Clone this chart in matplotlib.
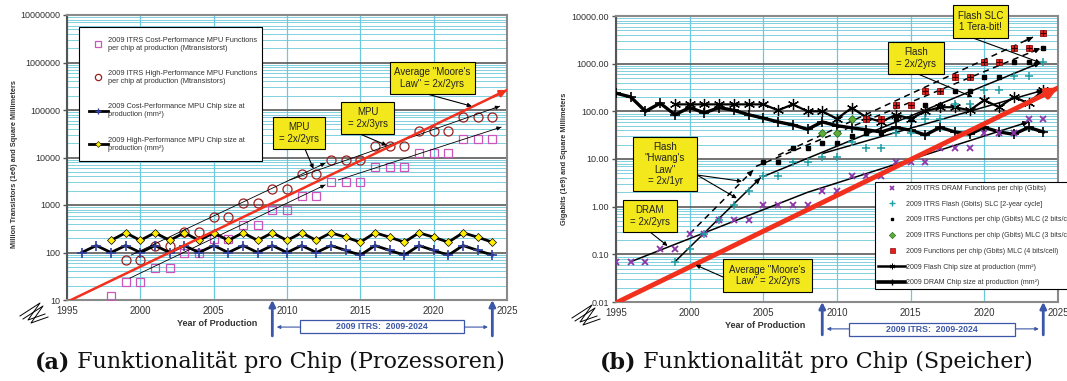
import numpy as np
import matplotlib
matplotlib.use('Agg')
import matplotlib.pyplot as plt
from matplotlib.lines import Line2D
from matplotlib.patches import Rectangle
from matplotlib.ticker import LogLocator, FuncFormatter, NullFormatter

plt.rcParams['font.family'] = ['Liberation Sans', 'DejaVu Sans']

#%% data - (a) processors
cp_func_years = list(range(1998, 2025))
cp_func = [12, 24, 24, 48, 48, 97, 97, 193, 193, 386, 386, 773, 773, 1546, 1546,
           3092, 3092, 3092, 6184, 6184, 6184, 12368, 12368, 12368, 24736, 24736, 24736]
hp_func_years = list(range(1999, 2025))
hp_func = [69, 69, 138, 138, 276, 276, 553, 553, 1106, 1106, 2212, 2212, 4424, 4424,
           8848, 8848, 8848, 17696, 17696, 17696, 35391, 35391, 35391, 70782, 70782, 70782]
cp_chip_years = list(range(1996, 2025))
cp_chip = [100, 140, 100, 140, 100, 140, 100, 140, 100, 140, 100, 140, 100, 140, 100,
           140, 100, 140, 111, 88, 140, 111, 88, 140, 111, 88, 140, 111, 88]
hp_chip_years = list(range(1998, 2025))
hp_chip = [180, 260, 180, 260, 180, 260, 180, 260, 180, 260, 180, 260, 180, 260, 180,
           260, 210, 165, 260, 210, 165, 260, 210, 165, 260, 210, 165]

# trend lines (year, value)
moore_a = [(1993.0, 4.6), (2025.0, 263000)]
mpu_2x2_hp = [(1999.4, 89), (2012.6, 7600)]
mpu_2x3_hp = [(2010.2, 3370), (2024.5, 120000)]
mpu_2x2_cp = [(1999.3, 29), (2012.6, 2650)]
mpu_2x3_cp = [(2013.5, 3370), (2024.6, 43600)]

#%% data - (b) memory
dram_years = list(range(1995, 2025))
dram_func = [0.07, 0.07, 0.07, 0.13, 0.13, 0.27, 0.27, 0.53, 0.53, 0.53, 1.07, 1.07, 1.07, 1.07,
             2.1, 2.1, 4.3, 4.3, 4.3, 8.6, 8.6, 8.6, 17.2, 17.2, 17.2, 34.4, 34.4, 34.4, 68.7, 68.7]
slc_years = list(range(1999, 2025))
slc = [0.07, 0.13, 0.27, 0.53, 1.07, 2.1, 4.3, 4.3, 8.6, 8.6, 11, 11, 23, 17, 17, 35, 35,
       70, 70, 140, 140, 280, 280, 550, 550, 1100]
mlc2_years = list(range(2005, 2025))
mlc2 = [8.6, 8.6, 17, 17, 22, 22, 30, 35, 35, 70, 70, 135, 135, 265, 265, 530, 530, 1060, 1060, 2100]
mlc3_years = [2009, 2010, 2011]
mlc3 = [35, 35, 70]
mlc4_years = list(range(2012, 2025))
mlc4 = [70, 70, 135, 135, 265, 265, 530, 530, 1060, 1060, 2100, 2100, 4300]
flash_chip_years = list(range(1999, 2025))
flash_chip = [140, 140, 140, 140, 140, 140, 140, 105, 140, 100, 100, 70, 118, 75, 60, 85, 70,
              100, 122, 122, 105, 172, 122, 200, 148, 278]
dram_chip = [240, 200, 100, 148, 85, 120, 93, 120, 105, 85, 72, 60, 52, 42, 60, 50, 45, 41,
             37, 46, 40, 32, 46, 37, 33, 46, 37, 33, 46, 37]

moore_b = [(1993.0, 0.0048), (2025.0, 310)]
dram_trend = [(1996, 0.07), (2008, 2.0), (2023, 60)]
slc_hwang = [(1999, 0.07), (2004.8, 4.0)]
slc_2x2 = [(2005, 4.3), (2023.8, 1050)]
mlc_hwang = [(2000, 0.27), (2004.3, 5.8)]
mlc_2x2 = [(2004.5, 7), (2023.8, 2100)]
mlc4_trend = [(2006, 12), (2023.3, 3600)]
chip_trend = [(2009, 13), (2024, 278)]

#%% colours
CYAN = '#6cc9db'
PINK = '#cc55bb'
DRED = '#9c1f1f'
MBLUE = '#2e3f9e'
YEL = '#f2e81b'
RED = '#f2301e'
IBLUE = '#3d57a8'
TXT = '#333333'

W, H = 1067, 381
fig = plt.figure(figsize=(W / 100, H / 100), dpi=100)


def fx(x, y):
    return (x / W, 1 - y / H)


def style_axes(ax, ymin, ymax, fmt):
    ax.set_yscale('log')
    ax.set_xlim(1995, 2025)
    ax.set_ylim(ymin, ymax)
    ax.set_xticks(range(1995, 2026, 5))
    ax.yaxis.set_major_locator(LogLocator(base=10, numticks=20))
    ax.yaxis.set_minor_locator(LogLocator(base=10, subs=np.arange(2, 10), numticks=20))
    ax.yaxis.set_major_formatter(FuncFormatter(fmt))
    ax.yaxis.set_minor_formatter(NullFormatter())
    ax.grid(True, which='minor', axis='y', color=CYAN, lw=0.6)
    ax.grid(True, which='major', axis='y', color='#5a5a5a', lw=1.2)
    ax.grid(True, which='major', axis='x', color=CYAN, lw=0.9)
    ax.set_axisbelow(True)
    for s in ax.spines.values():
        s.set_color('#8a8a8a')
        s.set_linewidth(1.5)
    ax.spines['left'].set_color('#555555')
    ax.tick_params(axis='y', which='major', length=3, width=1, labelsize=6.5,
                   labelcolor=TXT, color='#555555', pad=2)
    ax.tick_params(axis='y', which='minor', length=0)
    ax.tick_params(axis='x', length=0, labelsize=7, labelcolor=TXT, pad=4)


def trend(ax, pts, ls='-', lw=0.7, ms=6, color='black', z=4):
    xs, ys = zip(*pts)
    ax.plot(xs, ys, ls=ls, lw=lw, color=color, zorder=z, dash_capstyle='butt')
    (x0, y0), (x1, y1) = pts[-2], pts[-1]
    f = 0.97
    ax.annotate('', xy=(x1, y1), xytext=(x0 + f * (x1 - x0), y0 * (y1 / y0) ** f),
                arrowprops=dict(arrowstyle='-|>', color=color, lw=lw, mutation_scale=ms,
                                shrinkA=0, shrinkB=0),
                annotation_clip=False, zorder=z)


def callout(ax, text, box, src, targets, fs=7):
    x0, y0, x1, y1 = box
    fig.add_artist(Rectangle(fx(x0, y1), (x1 - x0) / W, (y1 - y0) / H, transform=fig.transFigure,
                             facecolor=YEL, edgecolor='black', lw=0.8, zorder=5))
    fig.text((x0 + x1) / 2 / W, 1 - (y0 + y1) / 2 / H, text, ha='center', va='center',
             fontsize=fs, zorder=6, linespacing=1.15, color='#222222')
    for t in targets:
        ax.annotate('', xy=t, xycoords='data', xytext=fx(*src), textcoords='figure fraction',
                    arrowprops=dict(arrowstyle='-|>', color='black', lw=0.8, mutation_scale=6,
                                    shrinkA=0, shrinkB=0),
                    annotation_clip=False, zorder=6)


def itrs_span(ax, y_bot, y_line, box_y, box_x):
    tr = ax.get_xaxis_transform()
    for yr in (2009, 2024):
        ax.annotate('', xy=(yr, 0), xycoords=tr, xytext=(yr, y_bot), textcoords=tr,
                    arrowprops=dict(arrowstyle='-|>', color=IBLUE, lw=2, mutation_scale=9,
                                    shrinkA=0, shrinkB=0), annotation_clip=False)
    ax.annotate('', xy=(2009.3, y_line), xycoords=tr, xytext=(2023.7, y_line), textcoords=tr,
                arrowprops=dict(arrowstyle='<|-|>', color=IBLUE, lw=0.8, mutation_scale=5,
                                shrinkA=0, shrinkB=0), annotation_clip=False)
    ax.add_patch(Rectangle((box_x[0], box_y[0]), box_x[1] - box_x[0], box_y[1] - box_y[0],
                           transform=tr, facecolor='white', edgecolor=IBLUE, lw=0.9,
                           clip_on=False, zorder=5))
    ax.text(sum(box_x) / 2, sum(box_y) / 2, '2009 ITRS:  2009-2024', transform=tr,
            ha='center', va='center', fontsize=6.3, fontweight='bold', color=IBLUE,
            clip_on=False, zorder=6)


def zbreak(x, y):
    for d in (0, 3):
        pts = [(x + d, y + 13 + d), (x + 20 + d, y + d), (x + 8 + d, y + 17 + d), (x + 25 + d, y + 11 + d)]
        fig.add_artist(Line2D([p[0] / W for p in pts], [1 - p[1] / H for p in pts],
                              transform=fig.transFigure, color='black', lw=0.7))


#%% (a) processors
ax1 = fig.add_axes([67 / W, 1 - 300 / H, 440 / W, 285 / H])
style_axes(ax1, 10, 1e7, lambda v, p: '%d' % v)

ax1.plot(cp_func_years, cp_func, ls='none', marker='s', ms=5.5, mfc='none', mec=PINK, mew=0.9, zorder=3)
ax1.plot(hp_func_years, hp_func, ls='none', marker='o', ms=6.5, mfc='none', mec=DRED, mew=0.9, zorder=3)
ax1.plot(cp_chip_years, cp_chip, color='black', lw=2, marker='+', ms=7, mec=MBLUE, mew=1.2, zorder=3)
ax1.plot(hp_chip_years, hp_chip, color='black', lw=2, marker='D', ms=4, mfc='#ffee00', mec='black', mew=0.5, zorder=3)

for tl in (mpu_2x2_hp, mpu_2x3_hp, mpu_2x2_cp, mpu_2x3_cp):
    trend(ax1, tl, lw=0.6, ms=6)
trend(ax1, moore_a, lw=1.8, ms=10, color=RED, z=5)

hands_a = [Line2D([], [], ls='none', marker='s', ms=4.5, mfc='none', mec=PINK, mew=0.9),
           Line2D([], [], ls='none', marker='o', ms=4.5, mfc='none', mec=DRED, mew=0.9),
           Line2D([], [], color='black', lw=2, marker='+', ms=5, mec=MBLUE),
           Line2D([], [], color='black', lw=2, marker='D', ms=3, mfc='#ffee00', mec='black', mew=0.4)]
labels_a = ['2009 ITRS Cost-Performance MPU Functions\nper chip at production (Mtransistorst)',
            '2009 ITRS High-Performance MPU Functions\nper chip at production (Mtransistors)',
            '2009 Cost-Performance MPU Chip size at\nproduction (mm\u00b2)',
            '2009 High-Performance MPU Chip size at\nproduction (mm\u00b2)']
leg = ax1.legend(hands_a, labels_a, loc='upper left', bbox_to_anchor=(79 / W, 1 - 174 / H, 183 / W, 147 / H),
                 bbox_transform=fig.transFigure, mode='expand', fontsize=5.3, labelspacing=2.5,
                 handlelength=2.6, handletextpad=0.1, borderpad=1.3, borderaxespad=0,
                 fancybox=False, edgecolor='black', framealpha=1)
leg.get_frame().set_linewidth(0.8)
for t in leg.get_texts():
    t.set_color(TXT)

callout(ax1, 'Average "Moore\'s\nLaw" = 2x/2yrs', (390, 62, 475, 94), (427, 94), [(2022.6, 120000)])
callout(ax1, 'MPU\n= 2x/3yrs', (341, 102, 394, 134), (360, 134), [(2016.8, 18000)])
callout(ax1, 'MPU\n= 2x/2yrs', (273, 117, 325, 149), (305, 149), [(2011.8, 5800)])

itrs_span(ax1, -0.126, -0.095, (-0.116, -0.070), (2010.9, 2022.1))
fig.text(217 / W, 1 - 324 / H, 'Year of Production', fontsize=6.5, fontweight='bold', color=TXT,
         ha='center', va='center')
fig.text(15 / W, 1 - 164 / H, 'Million Transistors (1e6) and Square Millimeters', rotation=90,
         fontsize=5.3, fontweight='bold', color=TXT, ha='center', va='center')
zbreak(20, 303)

#%% (b) memory
ax2 = fig.add_axes([616 / W, 1 - 302 / H, 442 / W, 286 / H])
style_axes(ax2, 0.01, 1e4, lambda v, p: '%.2f' % v)

ax2.plot(dram_years, dram_chip, color='black', lw=2.4, marker='+', ms=7, mew=1.2, zorder=3)
ax2.plot(flash_chip_years, flash_chip, color='black', lw=1.6, marker=(6, 2, 0), ms=8, mew=0.9, zorder=3)

trend(ax2, dram_trend, lw=1.1, ms=7)
trend(ax2, slc_hwang, lw=1.1, ms=7)
trend(ax2, slc_2x2, lw=1.1, ms=7)
trend(ax2, chip_trend, lw=1.1, ms=7)
trend(ax2, mlc_hwang, ls=(0, (4, 3)), lw=1.1, ms=7)
trend(ax2, mlc_2x2, ls=(0, (4, 3)), lw=1.1, ms=7)
trend(ax2, mlc4_trend, ls=(0, (4, 3)), lw=1.1, ms=7)

ax2.plot(dram_years, dram_func, ls='none', marker='x', ms=4, mec='#8a35a8', mew=1.3, zorder=4)
ax2.plot(slc_years, slc, ls='none', marker='+', ms=6, mec='#1f9ea3', mew=1.1, zorder=4)
ax2.plot(mlc2_years, mlc2, ls='none', marker='s', ms=2.5, mfc='black', mec='black', zorder=4)
ax2.plot(mlc3_years, mlc3, ls='none', marker='D', ms=4.5, mfc='#5fae3a', mec='#2f6e20', mew=0.6, zorder=4)
ax2.plot(mlc4_years, mlc4, ls='none', marker='s', ms=5, mfc='#e8201c', mec='#8a1010', mew=0.6, zorder=4)
ax2.plot(mlc4_years, mlc4, ls='none', marker='+', ms=4, mec='#3a0000', mew=0.8, zorder=4)

trend(ax2, moore_b, lw=3.5, ms=14, color=RED, z=5)

hands_b = [Line2D([], [], ls='none', marker='x', ms=3.5, mec='#8a35a8', mew=1.2),
           Line2D([], [], ls='none', marker='+', ms=4, mec='#1f9ea3', mew=1.0),
           Line2D([], [], ls='none', marker='s', ms=2, mfc='black', mec='black'),
           Line2D([], [], ls='none', marker='D', ms=3.2, mfc='#5fae3a', mec='#2f6e20', mew=0.5),
           Line2D([], [], ls='none', marker='s', ms=3.6, mfc='#e8201c', mec='#8a1010', mew=0.5),
           Line2D([], [], color='black', lw=1.8, marker=(6, 2, 0), ms=4, mew=0.7),
           Line2D([], [], color='black', lw=2.6, marker='+', ms=4, mew=1)]
labels_b = ['2009 ITRS DRAM Functions per chip (Gbits)',
            '2009 ITRS Flash (Gbits) SLC [2-year cycle]',
            '2009 ITRS Functions per chip (Gbits) MLC (2 bits/cell)',
            '2009 ITRS Functions per chip (Gbits) MLC (3 bits/cell)',
            '2009 Functions per chip (Gbits) MLC (4 bits/cell)',
            '2009 Flash Chip size at production (mm\u00b2)',
            '2009 DRAM Chip size at production (mm\u00b2)']
leg2 = ax2.legend(hands_b, labels_b, loc='upper left', bbox_to_anchor=(875 / W, 1 - 298 / H, 215 / W, 116 / H),
                  bbox_transform=fig.transFigure, mode='expand', fontsize=5, labelspacing=1.25,
                  handlelength=3.9, handletextpad=0.05, borderpad=0.45, borderaxespad=0,
                  fancybox=False, edgecolor='black', framealpha=1)
leg2.get_frame().set_linewidth(0.8)
for t in leg2.get_texts():
    t.set_color(TXT)

callout(ax2, 'Flash\n"Hwang\'s\nLaw"\n= 2x/1yr', (633, 137, 697, 191), (697, 175),
        [(2003.55, 3.4), (2003.2, 1.5)])
callout(ax2, 'DRAM\n= 2x/2yrs', (623, 200, 677, 232), (650, 232), [(1998.5, 0.15)])
callout(ax2, 'Average "Moore\'s\nLaw" = 2x/2yrs', (723, 259, 812, 292), (723, 277), [(2000.4, 0.06)])
callout(ax2, 'Flash\n= 2x/2yrs', (888, 42, 944, 74), (918, 74), [(2019.2, 200)])
callout(ax2, 'Flash SLC\n1 Tera-bit!', (953, 5, 1008, 38), (973, 38), [(2023.8, 1050)])

itrs_span(ax2, -0.115, -0.094, (-0.119, -0.073), (2010.8, 2022.1))
fig.text(765 / W, 1 - 326 / H, 'Year of Production', fontsize=6.5, fontweight='bold', color=TXT,
         ha='center', va='center')
fig.text(565 / W, 1 - 159 / H, 'Gigabits (1e9) and Square Millimeters', rotation=90,
         fontsize=5.3, fontweight='bold', color=TXT, ha='center', va='center')
zbreak(572, 305)

#%% captions
for x, tag, rest in ((35, '(a)', ' Funktionalit\u00e4t pro Chip (Prozessoren)'),
                     (600, '(b)', ' Funktionalit\u00e4t pro Chip (Speicher)')):
    t1 = fig.text(x / W, 1 - 373 / H, tag, family='DejaVu Serif', fontweight='bold', fontsize=16,
                  va='bottom', ha='left', color='#111111')
    ax1.annotate(rest, xy=(1, 0), xycoords=t1, va='bottom', ha='left', family='DejaVu Serif',
                 fontsize=16, color='#111111', annotation_clip=False)

fig.savefig('out.png', dpi=100)
